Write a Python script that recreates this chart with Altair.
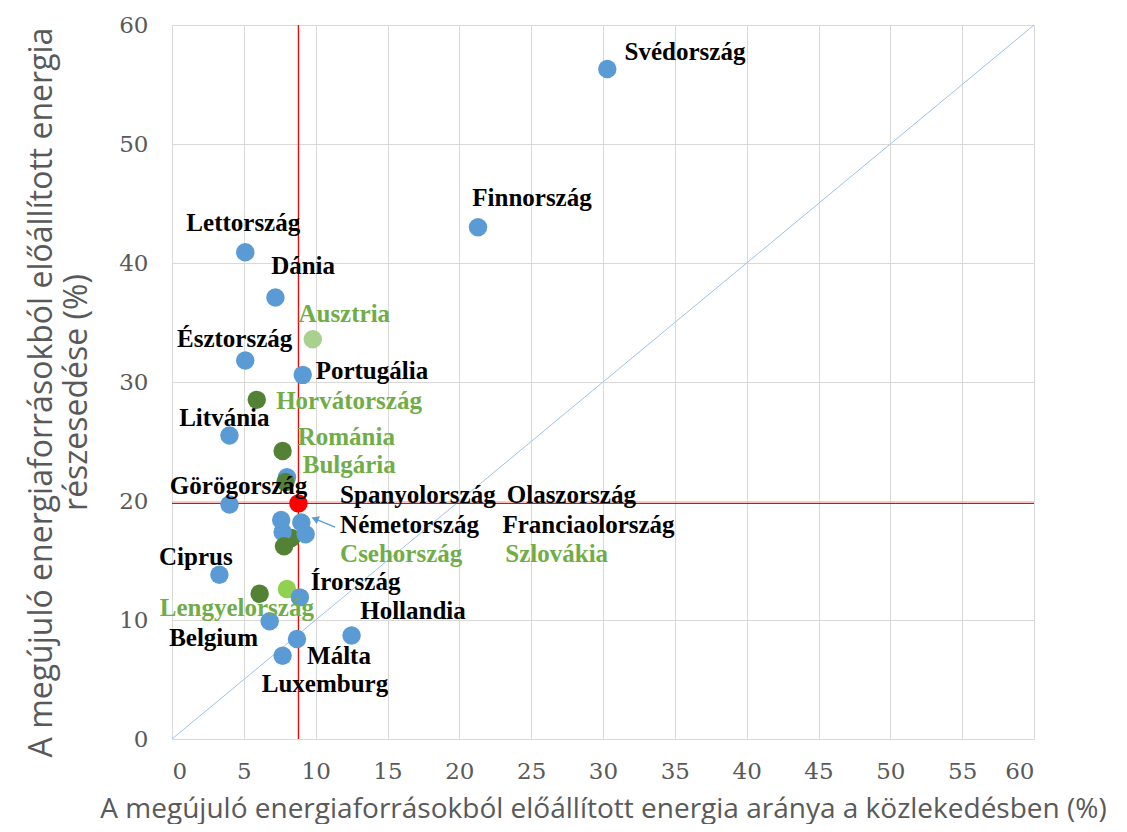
import altair as alt
import pandas as pd

# --- data ---
countries = ["Svédország", "Finnország", "Lettország", "Dánia", "Ausztria", "Észtország",
             "Portugália", "Horvátország", "Litvánia", "Románia", "Szlovénia", "Bulgária",
             "Görögország", "Szlovákia", "Spanyolország", "Olaszország", "Németország",
             "Franciaország", "Csehország", "Ciprus", "Lengyelország", "Magyarország",
             "Írország", "Belgium", "Málta", "Hollandia", "Luxemburg", "EU átlag"]
transport = [30.3, 21.3, 5.1, 7.2, 9.8, 5.1, 9.1, 5.9, 4.0, 7.7, 8.0, 7.9, 4.0, 8.3, 7.6, 9.0,
             7.7, 9.3, 7.8, 3.3, 6.1, 8.0, 8.9, 6.8, 8.7, 12.5, 7.7, 8.8]
share = [56.3, 43.0, 40.9, 37.1, 33.6, 31.8, 30.6, 28.5, 25.5, 24.2, 22.0, 21.6, 19.7, 16.9,
         18.4, 18.2, 17.4, 17.2, 16.2, 13.8, 12.2, 12.6, 11.9, 9.9, 8.4, 8.7, 7.0, 19.8]
group = ["blue", "blue", "blue", "blue", "lightgreen", "blue", "blue", "darkgreen", "blue",
         "darkgreen", "blue", "darkgreen", "blue", "darkgreen", "blue", "blue", "blue", "blue",
         "darkgreen", "blue", "darkgreen", "hungary", "blue", "blue", "blue", "blue", "blue", "eu"]

# label anchor (left edge, vertical middle) in data units
label_names = ["Svédország", "Finnország", "Lettország", "Dánia", "Ausztria", "Észtország",
               "Portugália", "Horvátország", "Litvánia", "Románia", "Bulgária", "Görögország",
               "Spanyolország", "Olaszország", "Németország", "Franciaolország", "Csehország",
               "Szlovákia", "Ciprus", "Írország", "Lengyelország", "Hollandia", "Belgium",
               "Málta", "Luxemburg"]
label_x = [31.5, 20.9, 1.0, 6.9, 8.8, 0.35, 10.0, 7.25, 0.5, 8.75, 9.1, -0.15, 11.7, 23.3,
           11.7, 23.0, 11.7, 23.2, -0.9, 9.65, -0.85, 13.1, -0.2, 9.4, 6.25]
label_y = [57.7, 45.5, 43.4, 39.75, 35.7, 33.6, 30.9, 28.4, 27.0, 25.4, 23.0, 21.3, 20.5,
           20.5, 18.0, 18.0, 15.55, 15.55, 15.3, 13.2, 11.0, 10.75, 8.5, 7.0, 4.6]
label_green = ["Ausztria", "Horvátország", "Románia", "Bulgária", "Csehország", "Szlovákia",
               "Lengyelország"]

# arrow from the "Németország" label to the cluster
arrow_x = [11.35, 9.95]
arrow_y = [17.8, 18.5]

# tick values on the two axes
x_ticks = [0, 5, 10, 15, 20, 25, 30, 35, 40, 45, 50, 55, 60]
y_ticks = [0, 10, 20, 30, 40, 50, 60]

axis_range = [0, 60]
eu_x, eu_y = 8.8, 19.8

TICK_FONT = "DejaVu Serif"

points = pd.DataFrame({"country": countries, "x": transport, "y": share, "group": group})
labels = pd.DataFrame({"name": label_names, "lx": label_x, "ly": label_y,
                       "tcolor": ["#70ad47" if n in label_green else "#000000" for n in label_names]})
diag = pd.DataFrame({"x": [axis_range[0]], "y": [axis_range[0]], "x2": [axis_range[1]], "y2": [axis_range[1]]})
vline = pd.DataFrame({"x": [eu_x], "y": [axis_range[0]], "y2": [axis_range[1]]})
hline = pd.DataFrame({"y": [eu_y], "x": [axis_range[0]], "x2": [axis_range[1]]})
arrow_line = pd.DataFrame({"x": [arrow_x[0]], "y": [arrow_y[0]], "x2": [arrow_x[1]], "y2": [arrow_y[1]]})
arrow_head = pd.DataFrame({"x": [arrow_x[1]], "y": [arrow_y[1]]})

xs = alt.Scale(domain=axis_range, nice=False)
ys = alt.Scale(domain=axis_range, nice=False)

x_axis = alt.Axis(values=x_ticks,
                  title="A megújuló energiaforrásokból előállított energia aránya a közlekedésben (%)",
                  labelFont=TICK_FONT, labelFontSize=23, labelColor="#595959", labelFontWeight="normal",
                  labelPadding=21, titleFontSize=28, titleBaseline="middle", titleY=70,
                  titleFont="Open Sans", titleFontWeight="normal", titleColor="#595959")
y_axis = alt.Axis(values=y_ticks,
                  title=["A megújuló energiaforrásokból előállított energia", "részesedése (%)"],
                  labelFont=TICK_FONT, labelFontSize=23, labelColor="#595959", labelFontWeight="normal",
                  labelPadding=24, titleFontSize=32, titleBaseline="middle", titleLineHeight=35,
                  titleX=-131, titleY=367, titleAngle=-90,
                  titleFont="Open Sans", titleFontWeight="normal", titleColor="#595959")

base_axes = alt.Chart(diag).mark_rule(color="#9dc3e6", strokeWidth=1).encode(
    x=alt.X("x:Q", scale=xs, axis=x_axis), y=alt.Y("y:Q", scale=ys, axis=y_axis),
    x2="x2:Q", y2="y2:Q")

red_v = alt.Chart(vline).mark_rule(color="#ff0000", strokeWidth=1.3).encode(
    x=alt.X("x:Q", scale=xs, axis=x_axis), y=alt.Y("y:Q", scale=ys, axis=y_axis), y2="y2:Q")
red_h = alt.Chart(hline).mark_rule(color="#ff0000", strokeWidth=1.3).encode(
    y=alt.Y("y:Q", scale=ys, axis=y_axis), x=alt.X("x:Q", scale=xs, axis=x_axis), x2="x2:Q")

pts = alt.Chart(points).mark_circle(size=340, opacity=1).encode(
    x=alt.X("x:Q", scale=xs, axis=x_axis), y=alt.Y("y:Q", scale=ys, axis=y_axis),
    color=alt.Color("group:N", legend=None,
                    scale=alt.Scale(domain=["blue", "darkgreen", "lightgreen", "hungary", "eu"],
                                    range=["#5b9bd5", "#548235", "#a9d18e", "#92d050", "#ff0000"])),
    order=alt.Order("idx:Q")).transform_window(idx="row_number()")

arr = alt.Chart(arrow_line).mark_rule(color="#5b9bd5", strokeWidth=1.3).encode(
    x=alt.X("x:Q", scale=xs, axis=x_axis), y=alt.Y("y:Q", scale=ys, axis=y_axis), x2="x2:Q", y2="y2:Q")
arr_head = alt.Chart(arrow_head).mark_point(shape="triangle-up", filled=True, size=70,
                                            color="#5b9bd5", angle=292, opacity=1).encode(
    x=alt.X("x:Q", scale=xs, axis=x_axis), y=alt.Y("y:Q", scale=ys, axis=y_axis))

txt = alt.Chart(labels).mark_text(font="Liberation Serif", fontSize=25, fontWeight="bold",
                                  align="left", baseline="middle").encode(
    x=alt.X("lx:Q", scale=xs, axis=x_axis), y=alt.Y("ly:Q", scale=ys, axis=y_axis), text="name:N",
    color=alt.Color("tcolor:N", scale=None))

chart = alt.layer(base_axes, red_h, red_v, pts, arr, arr_head, txt).properties(
    width=862, height=714,
    autosize=alt.AutoSizeParams(type="none"),
    padding={"left": 164, "top": 17, "right": 85, "bottom": 85},
).configure_view(stroke=None).configure_axis(
    grid=True, gridColor="#d9d9d9", domainColor="#d9d9d9", tickSize=0,
    labelFont=TICK_FONT, labelFontSize=23, labelColor="#595959",
    titleFont="Open Sans", titleFontWeight="normal", titleColor="#595959",
)

chart.save("out.html", embed_options={"renderer": "svg", "actions": False})
